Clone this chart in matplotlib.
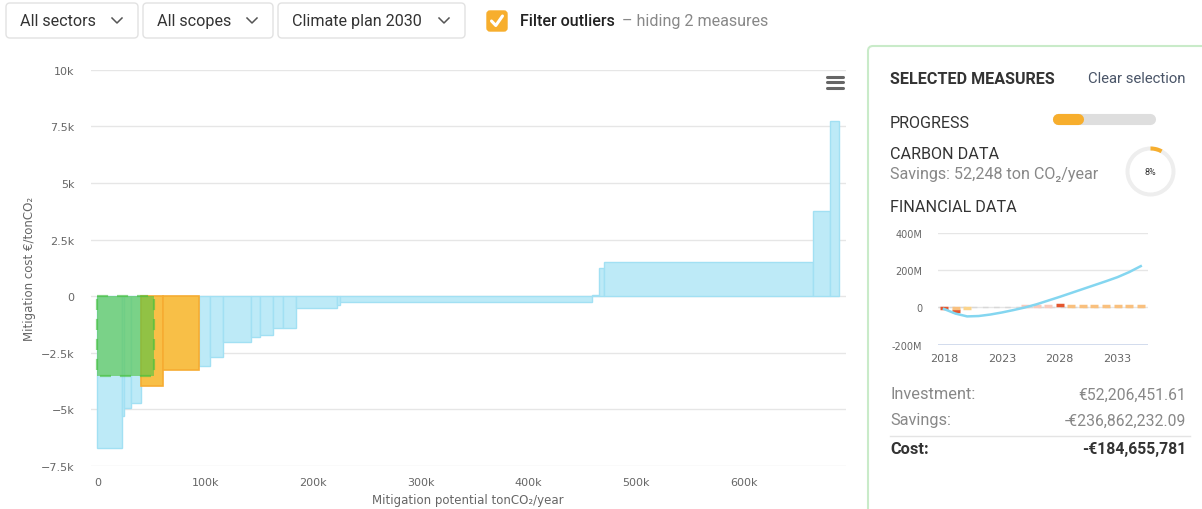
import numpy as np
import matplotlib
matplotlib.use("Agg")
import matplotlib.pyplot as plt
from matplotlib.patches import FancyBboxPatch, Wedge

# --- main curve data (ton CO2/year, EUR/ton CO2) ---
measure_potential = [23200, 1600, 6500, 9700, 20200, 32900, 10400, 11800, 26000, 8700,
                     11700, 9300, 12300, 37800, 3000, 234100, 6200, 4600, 194200, 15500, 8600]
measure_cost = [-6710, -5270, -4950, -4710, -3970, -3250, -3090, -2700, -2030, -1800,
                -1700, -1410, -1390, -520, -410, -270, 50, 1240, 1500, 3780, 7730]
measure_hovered = [False, False, False, False, True, True, False, False, False, False,
                   False, False, False, False, False, False, False, False, False, False, False]

selected_potential = 52248
selected_cost_total = -184655781

y_ticks = [-7500, -5000, -2500, 0, 2500, 5000, 7500, 10000]
y_tick_labels = ["−7.5k", "−5k", "−2.5k", "0", "2.5k", "5k", "7.5k", "10k"]
x_ticks = [0, 100000, 200000, 300000, 400000, 500000, 600000]
x_tick_labels = ["0", "100k", "200k", "300k", "400k", "500k", "600k"]

# --- financial mini chart (million EUR) ---
fin_years = list(range(2018, 2036))
fin_net = [-8, -33, -48, -46, -38, -27, -14, 0, 17, 37, 57, 78, 99, 120, 141, 163, 190, 222]
red_years, red_vals = [2018, 2019, 2028], [-4, -18, 11]
orange_years, orange_vals = [2019, 2029, 2030, 2031, 2032, 2033, 2034, 2035], [-5, 8, 8, 8, 8, 8, 8, 8]
yellow_years, yellow_vals = [2020], [-5]
pale_years, pale_vals = [2025, 2026, 2027], [10, 10, 10]
fin_y_ticks = [-200, 0, 200, 400]
fin_y_labels = ["-200M", "0", "200M", "400M"]
fin_x_ticks = [2018, 2023, 2028, 2033]

progress_fraction = 0.25
carbon_share = 0.08

dropdowns = ["All sectors", "All scopes", "Climate plan 2030"]

UI = ["Roboto", "DejaVu Sans"]

fig = plt.figure(figsize=(12.02, 5.10), dpi=100)

# ---------------- main MAC curve ----------------
ax = fig.add_axes([0.07546, 0.0843, 0.6284, 0.7771])
lefts = np.concatenate([[0], np.cumsum(measure_potential)[:-1]])
for l, w, c, hov in zip(lefts, measure_potential, measure_cost, measure_hovered):
    if hov:
        ax.bar(l, c, width=w, align="edge", facecolor="#f8bf47", edgecolor="#f6ac32",
               linewidth=1.2, zorder=3)
    else:
        ax.bar(l, c, width=w, align="edge", facecolor="#bdeaf7", edgecolor="#a2e0f3",
               linewidth=1.0, zorder=2)

# aggregate box of the selected measures
sel_cost = selected_cost_total / selected_potential
ax.bar(0, sel_cost, width=selected_potential, align="edge", facecolor="#52c444",
       alpha=0.62, edgecolor="#45c03c", linewidth=1.6, linestyle=(0, (5, 4)), zorder=4)

ax.set_xlim(-6100, 694500)
ax.set_ylim(-7500, 10000)
ax.set_yticks(y_ticks)
ax.set_yticklabels(y_tick_labels)
ax.set_xticks(x_ticks)
ax.set_xticklabels(x_tick_labels)
ax.tick_params(length=0, labelsize=8, labelcolor="#666666")
ax.tick_params(axis="y", pad=11.5)
ax.tick_params(axis="x", pad=8)
ax.grid(axis="y", color="#e6e6e6", linewidth=1)
ax.set_axisbelow(True)
for s in ax.spines.values():
    s.set_visible(False)

# ---------------- overlay in pixel coordinates ----------------
ui = fig.add_axes([0, 0, 1, 1])
ui.set_xlim(0, 1202)
ui.set_ylim(510, 0)
ui.axis("off")
ui.patch.set_alpha(0)

ui.text(30, 269, "Mitigation cost €/tonCO₂", rotation=90, ha="center", va="center",
        fontsize=8.5, color="#666666")
ui.text(468, 501, "Mitigation potential tonCO₂/year", ha="center", va="center",
        fontsize=8.5, color="#666666")

# hamburger menu
for yy in [77.5, 83, 88.5]:
    ui.plot([827, 843], [yy, yy], color="#666666", lw=2.2, solid_capstyle="round")

# dropdowns
box_x = [(6, 138), (143, 273), (278, 465)]
for (x0, x1), label in zip(box_x, dropdowns):
    ui.add_patch(FancyBboxPatch((x0, 4), x1 - x0, 35, boxstyle="round,pad=0,rounding_size=4",
                                facecolor="white", edgecolor="#e2e2e2", lw=1))
    ui.text(x0 + 14, 21.5, label, ha="left", va="center", fontsize=11.6, color="#333333",
            family=UI)
    cx = x1 - 21
    ui.plot([cx - 5, cx, cx + 5], [19, 24, 19], color="#555555", lw=1.1)

# checkbox
ui.add_patch(FancyBboxPatch((487, 12), 20, 20, boxstyle="round,pad=0,rounding_size=3",
                            facecolor="#f7ae2d", edgecolor="#f7ae2d", lw=1))
ui.plot([491.5, 495.8, 502.5], [22, 26.5, 17], color="white", lw=2.2,
        solid_capstyle="round", solid_joinstyle="round")
ui.text(520, 21.5, "Filter outliers", ha="left", va="center", fontsize=11.6,
        color="#222222", family=UI, weight="medium")
ui.text(622, 21.5, "– hiding 2 measures", ha="left", va="center", fontsize=11.6,
        color="#888888", family=UI)

# side panel
ui.add_patch(FancyBboxPatch((868, 47), 400, 500, boxstyle="round,pad=0,rounding_size=5",
                            facecolor="white", edgecolor="#c9ebc9", lw=1.5))
ui.text(890, 79, "SELECTED MEASURES", ha="left", va="center", fontsize=11.6,
        weight="bold", color="#333333", family=UI)
ui.text(1186, 79, "Clear selection", ha="right", va="center", fontsize=10.7,
        color="#4a5568", family=UI)
ui.text(890, 123, "PROGRESS", ha="left", va="center", fontsize=11.6, color="#333333", family=UI)
bar_l, bar_r = 1057.5, 1149.5
ui.plot([bar_l, bar_r], [119.5, 119.5], color="#dedede", lw=8, solid_capstyle="round")
ui.plot([bar_l, bar_l + (bar_r - bar_l + 11) * progress_fraction - 5.5], [119.5, 119.5],
        color="#f7ae2d", lw=8, solid_capstyle="round")
ui.text(890, 155, "CARBON DATA", ha="left", va="center", fontsize=11.6, color="#333333", family=UI)
ui.text(890, 175, "Savings: 52,248 ton CO₂/year", ha="left", va="center", fontsize=11.6,
        color="#888888", family=UI)
ui.add_patch(Wedge((1150.5, 172.5), 25, 0, 360, width=4, facecolor="#eeeeee", edgecolor="none"))
ui.add_patch(Wedge((1150.5, 172.5), 25, 270, 270 + 360 * carbon_share, width=4,
                   facecolor="#f7ae2d", edgecolor="none"))
ui.text(1150.5, 172.5, "8%", ha="center", va="center", fontsize=6.5, color="#333333", family=UI)
ui.text(890, 208, "FINANCIAL DATA", ha="left", va="center", fontsize=11.6, color="#333333", family=UI)

rows = [("Investment:", "€52,206,451.61", 395, "normal", "#888888"),
        ("Savings:", "-€236,862,232.09", 421, "normal", "#888888"),
        ("Cost:", "-€184,655,781", 449.5, "bold", "#333333")]
for name, val, yy, wt, col in rows:
    ui.text(890, yy, name, ha="left", va="center", fontsize=11.8, weight=wt, color=col, family=UI)
    ui.text(1186, yy, val, ha="right", va="center", fontsize=11.3, weight=wt, color=col, family=UI)
ui.plot([890, 1190], [436.5, 436.5], color="#e4e4e4", lw=1)

# ---------------- financial mini chart ----------------
fx = fig.add_axes([937.7 / 1202, 1 - 345.7 / 510, 210 / 1202, 111.7 / 510])
fx.axhline(0, color="#d8d8d8", lw=1, ls=(0, (4, 4)), zorder=1)
fx.plot(fin_years, fin_net, color="#84d6f0", lw=1.8, zorder=3)
for yrs, vals, col in [(red_years, red_vals, "#e4562e"), (orange_years, orange_vals, "#f9c07e"),
                       (yellow_years, yellow_vals, "#fcd48a"), (pale_years, pale_vals, "#f8cbbd")]:
    fx.scatter(yrs, vals, marker="_", s=28, linewidths=2.5, color=col, zorder=2)
fx.set_xlim(2017.46, 2035.6)
fx.set_ylim(-200, 400)
fx.set_yticks(fin_y_ticks)
fx.set_yticklabels(fin_y_labels)
fx.set_xticks(fin_x_ticks)
fx.tick_params(length=0, labelcolor="#666666")
fx.tick_params(axis="y", labelsize=7, pad=11)
fx.tick_params(axis="x", labelsize=8, pad=6)
fx.grid(axis="y", color="#e6e6e6", lw=1)
fx.set_axisbelow(True)
for s in fx.spines.values():
    s.set_visible(False)
fx.axhline(-200, color="#ccd6eb", lw=1.2)
fx.patch.set_alpha(0)

fig.savefig("out.png", dpi=100)
